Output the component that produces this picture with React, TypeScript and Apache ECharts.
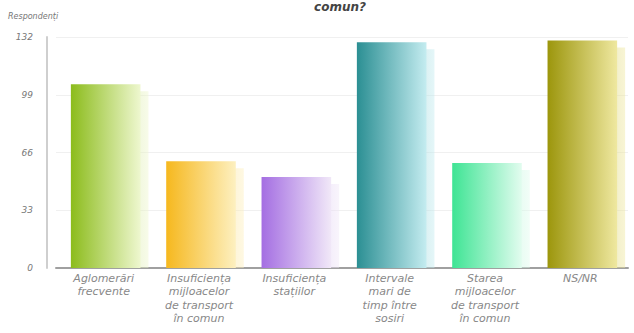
import React, { useEffect, useRef } from "react";
import * as echarts from "echarts";

const categories = [
  "Aglomerări\nfrecvente",
  "Insuficiența\nmijloacelor\nde transport\nîn comun",
  "Insuficiența\nstațiilor",
  "Intervale\nmari de\ntimp între\nsosiri",
  "Starea\nmijloacelor\nde transport\nîn comun",
  "NS/NR",
];
const values = [105, 61, 52, 129, 60, 130];
const yTicks = { min: 0, max: 132, interval: 33 };
const titleText = "comun?";
const yName = "Respondenți";
const barColors: [string, string][] = [
  ["#8cbc1c", "#eef7cf"],
  ["#f6b81e", "#fdf0c0"],
  ["#a46ee2", "#f1e8f8"],
  ["#2b8f93", "#c4ecf0"],
  ["#3ee494", "#e2fcef"],
  ["#9c960c", "#efe8a0"],
];

export default function App() {
  const ref = useRef<HTMLDivElement>(null);
  useEffect(() => {
    const chart = echarts.init(ref.current!, null, { renderer: "svg" });
    const font = "DejaVu Sans";
    chart.setOption({
      animation: false,
      graphic: [
        {
          type: "text",
          left: 8,
          top: 12,
          style: { text: yName, fontFamily: font, fontSize: 8, fontStyle: "italic", fill: "#777" },
        },
        {
          type: "text",
          x: 340,
          y: 1,
          style: {
            text: titleText,
            fontFamily: font,
            fontSize: 12,
            fontWeight: "bold",
            fontStyle: "italic",
            fill: "#444",
            align: "center",
            verticalAlign: "top",
          },
        },
      ],
      grid: { left: 56, right: 6, top: 37, bottom: 65, containLabel: false },
      xAxis: {
        type: "category",
        data: categories,
        axisLine: { lineStyle: { color: "#a0a0a0", width: 2 } },
        axisTick: { show: false },
        axisLabel: {
          interval: 0,
          margin: 4,
          fontFamily: font,
          fontSize: 11,
          fontStyle: "italic",
          color: "#888",
          lineHeight: 13.3,
        },
      },
      yAxis: {
        type: "value",
        min: yTicks.min,
        max: yTicks.max,
        interval: yTicks.interval,
        offset: 9,
        axisLine: { show: true, lineStyle: { color: "#cfcfcf", width: 2 } },
        axisTick: { show: false },
        splitLine: { lineStyle: { color: "#f0f0f0" } },
        axisLabel: { fontFamily: font, fontSize: 9, fontStyle: "italic", color: "#777", margin: 14 },
      },
      series: [
        {
          type: "custom",
          encode: { x: 0, y: 1 },
          data: values.map((v, i) => [i, v]),
          renderItem: (params: any, api: any) => {
            const idx = api.value(0);
            const val = api.value(1);
            const top = api.coord([idx, val]);
            const base = api.coord([idx, 0]);
            const band = api.size([1, 0])[0];
            const w = band * 0.73;
            const x = top[0] - w / 2 + 2;
            const c = barColors[idx];
            return {
              type: "group",
              children: [
                {
                  type: "rect",
                  shape: { x: x + 8, y: top[1] + 7, width: w, height: base[1] - top[1] - 7 },
                  style: {
                    fill: new echarts.graphic.LinearGradient(0, 0, 1, 0, [
                      { offset: 0, color: c[0] },
                      { offset: 1, color: c[1] },
                    ]),
                    opacity: 0.45,
                  },
                },
                {
                  type: "rect",
                  shape: { x, y: top[1], width: w, height: base[1] - top[1] },
                  style: {
                    fill: new echarts.graphic.LinearGradient(0, 0, 1, 0, [
                      { offset: 0, color: c[0] },
                      { offset: 1, color: c[1] },
                    ]),
                  },
                },
              ],
            };
          },
        },
      ],
    });
    return () => chart.dispose();
  }, []);
  return <div ref={ref} style={{ width: 634, height: 333, position: "absolute", left: 0, top: 0 }} />;
}
